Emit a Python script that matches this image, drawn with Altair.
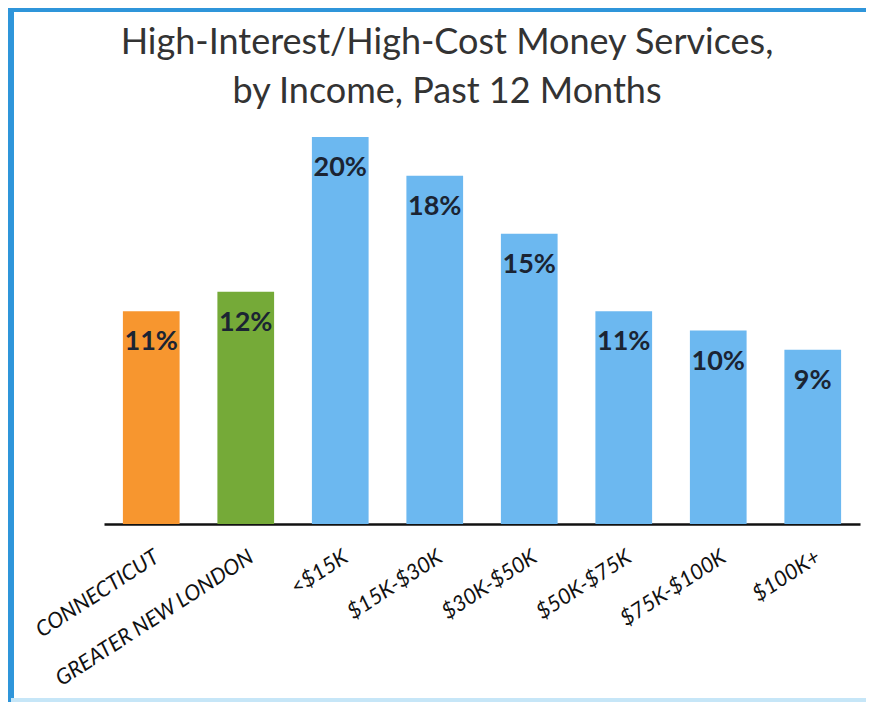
import altair as alt
import pandas as pd

categories = ["CONNECTICUT", "GREATER NEW LONDON", "<$15K", "$15K-$30K",
              "$30K-$50K", "$50K-$75K", "$75K-$100K", "$100K+"]
values = [11, 12, 20, 18, 15, 11, 10, 9]
labels = ["11%", "12%", "20%", "18%", "15%", "11%", "10%", "9%"]
bar_colors = ["#F7962F", "#75AA38", "#6CB8F0", "#6CB8F0",
              "#6CB8F0", "#6CB8F0", "#6CB8F0", "#6CB8F0"]

df = pd.DataFrame({"category": categories, "value": values, "label": labels})

x_enc = alt.X("category:N", sort=categories,
              scale=alt.Scale(paddingInner=0.4, paddingOuter=0.2),
              axis=alt.Axis(title=None, ticks=False, labelAngle=-33,
                            labelAlign="right", labelBaseline="top",
                            labelPadding=22, labelFont="Lato",
                            labelFontStyle="italic", labelFontSize=21.5,
                            labelColor="#111111", domainColor="#111111",
                            domainWidth=2.5, labelOverlap=False,
                            labelLimit=400))
y_enc = alt.Y("value:Q", scale=alt.Scale(domain=[0, 20], nice=False),
              axis=None)

bars = alt.Chart(df).mark_bar().encode(
    x=x_enc, y=y_enc,
    color=alt.Color("category:N", sort=categories,
                    scale=alt.Scale(domain=categories, range=bar_colors),
                    legend=None),
)

text = alt.Chart(df).mark_text(
    baseline="middle", dy=31, font="Lato", fontWeight="bold",
    fontSize=27, color="#1B2433"
).encode(x=alt.X("category:N", sort=categories), y="value:Q", text="label:N")

frame_color = "#2F95DA"
left_border = alt.Chart(df).mark_rule(color=frame_color, strokeWidth=5).encode(
    x=alt.value(-93), y=alt.value(-130), y2=alt.value(565))
top_border = alt.Chart(df).mark_rule(color=frame_color, strokeWidth=5).encode(
    x=alt.value(-95), x2=alt.value(762), y=alt.value(-128))
bottom_border = alt.Chart(df).mark_rule(color="#C6E6F7", strokeWidth=3).encode(
    x=alt.value(-93), x2=alt.value(762), y=alt.value(563))

chart = alt.layer(bars, text, left_border, top_border, bottom_border).properties(
    width=756, height=387,
    background="white",
    title=alt.TitleParams(
        text=["High-Interest/High-Cost Money Services,", "by Income, Past 12 Months"],
        anchor="middle", frame="group", dx=-35, offset=-106, lineHeight=49,
        font="Lato", fontSize=36, fontWeight="normal", color="#333333"),
    autosize=alt.AutoSizeParams(type="none"),
    padding={"left": 96, "top": 129, "right": 6, "bottom": 178},
).configure_view(stroke=None)

chart.save("out.html", embed_options={"renderer": "svg", "actions": False})
